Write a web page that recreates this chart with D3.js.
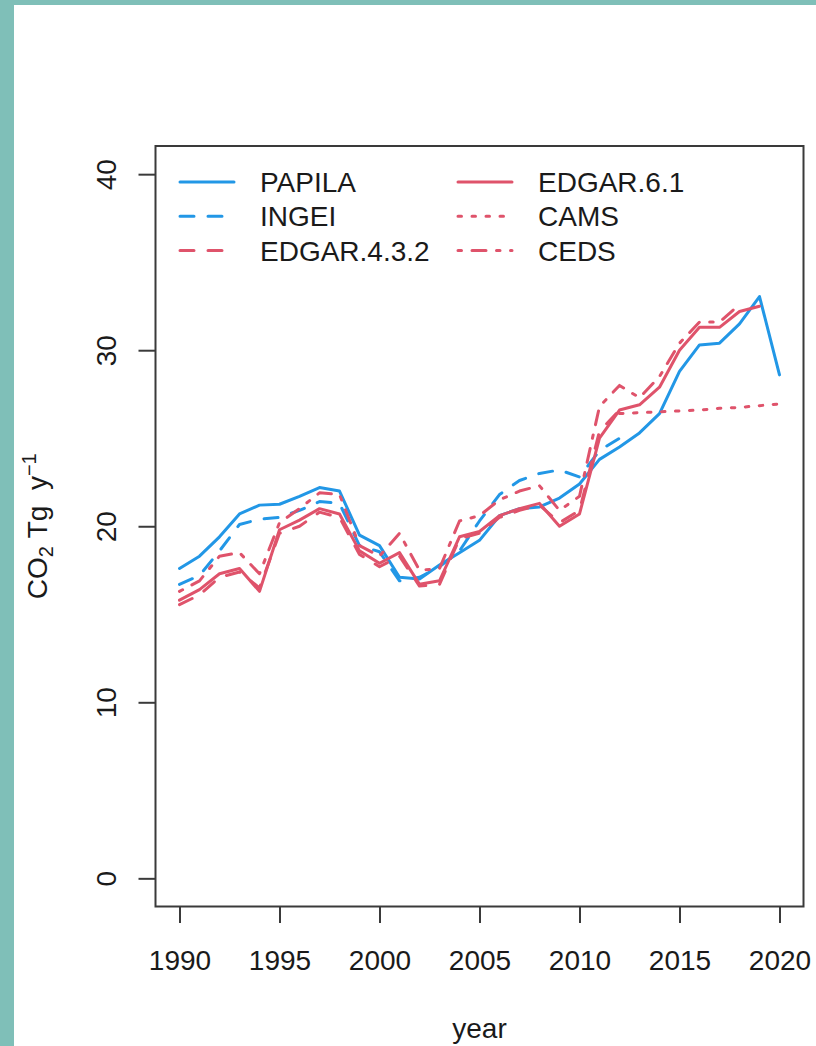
<!DOCTYPE html>
<html>
<head>
<meta charset="utf-8">
<script src="https://cdn.jsdelivr.net/npm/d3@7"></script>
<style>
  html, body { margin: 0; padding: 0; background: #fff; }
  svg { display: block; font-family: "Liberation Sans", Arial, Helvetica, sans-serif; }
</style>
</head>
<body>
<svg id="chart" width="816" height="1046"></svg>
<script>
// Annual CO2 emission estimates (Tg per year), 1990-2020; null = not covered
const years = d3.range(1990, 2021);

const papila = [17.6, 18.3, 19.4, 20.7, 21.2, 21.25, 21.7, 22.2, 22.0, 19.5,
                18.9, 17.1, 17.0, 17.8, 18.5, 19.2, 20.6, 21.0, 21.1, 21.6,
                22.4, 23.8, 24.5, 25.3, 26.4, 28.8, 30.3, 30.4, 31.5, 33.05, 28.6];

const ingei = [16.7, 17.2, 18.6, 20.1, 20.4, 20.5, 20.9, 21.4, 21.3, 18.9,
               18.55, 16.9, 17.1, 17.7, 18.6, 20.3, 21.8, 22.6, 23.0, 23.2,
               22.8, 24.3, 25.0, null, null, null, null, null, null, null, null];

const edgar432 = [15.55, 16.1, 17.1, 17.4, 16.5, 19.6, 20.0, 20.8, 20.5, 18.4,
                  17.7, 18.3, 16.6, 16.7, 19.3, 19.6, 20.5, 20.9, 21.2, 20.2,
                  20.9, 25.4, 26.6, null, null, null, null, null, null, null, null];

const edgar61 = [15.8, 16.4, 17.3, 17.6, 16.3, 19.8, 20.35, 21.0, 20.7, 18.6,
                 17.9, 18.5, 16.7, 16.9, 19.4, 19.7, 20.6, 21.0, 21.3, 20.0,
                 20.7, 25.0, 26.6, 26.9, 27.9, 30.0, 31.3, 31.3, 32.2, 32.5, null];

const cams = [null, null, null, null, null, null, null, null, null, null,
              null, null, null, null, null, null, null, null, null, null,
              null, null, 26.4, 26.45, 26.5, 26.55, 26.6, 26.7, 26.75, 26.85, 26.95];

const ceds = [16.3, 16.9, 18.3, 18.5, 17.3, 20.2, 21.0, 21.9, 21.8, 18.9,
              18.3, 19.6, 17.5, 17.6, 20.3, 20.6, 21.5, 22.0, 22.3, 20.9,
              21.7, 26.8, 28.0, 27.3, 28.5, 30.4, 31.6, 31.6, 32.6, null, null];

const xTicks = [1990, 1995, 2000, 2005, 2010, 2015, 2020];
const yTicks = [0, 10, 20, 30, 40];

const BLUE = "#2297E6", RED = "#DF536B";
const DASH = "14,14", DOT = "3.5,10.5", DOTDASH = "3.5,10.5,14,10.5";

const series = [
  { name: "PAPILA",      values: papila,   color: BLUE, dash: null },
  { name: "INGEI",       values: ingei,    color: BLUE, dash: DASH },
  { name: "EDGAR.4.3.2", values: edgar432, color: RED,  dash: DASH },
  { name: "EDGAR.6.1",   values: edgar61,  color: RED,  dash: null },
  { name: "CAMS",        values: cams,     color: RED,  dash: DOT },
  { name: "CEDS",        values: ceds,     color: RED,  dash: DOTDASH }
];

const svg = d3.select("#chart");
const W = 816, H = 1046;
const plot = { left: 155.5, right: 803.5, top: 146, bottom: 906.5 };

// page frame
svg.append("rect").attr("width", W).attr("height", H).attr("fill", "#fff");
svg.append("rect").attr("x", 0).attr("y", 0).attr("width", 14).attr("height", H).attr("fill", "#7fbfb8");
svg.append("rect").attr("x", 0).attr("y", 0).attr("width", W).attr("height", 5).attr("fill", "#7fbfb8");

// scales with 4% padding on each side of the data ranges
const x = d3.scaleLinear().domain([1988.8, 2021.2]).range([plot.left, plot.right]);
const y = d3.scaleLinear().domain([-1.6, 41.6]).range([plot.bottom, plot.top]);

const FS = 28;
const textColor = "#1a1a1a";
const axisColor = "#3a3a3a";

// x axis
const gx = svg.append("g")
  .attr("transform", `translate(0,${plot.bottom})`)
  .call(d3.axisBottom(x).tickValues(xTicks).tickSize(16.5).tickFormat(d3.format("d")));
gx.select(".domain").remove();
gx.selectAll(".tick line").attr("stroke", axisColor).attr("stroke-width", 2);
gx.selectAll(".tick text")
  .attr("y", 63.5).attr("dy", null)
  .attr("font-size", FS).attr("fill", textColor)
  .attr("font-family", "Liberation Sans, Arial, sans-serif");

// y axis (labels parallel to the axis)
const gy = svg.append("g")
  .attr("transform", `translate(${plot.left},0)`)
  .call(d3.axisLeft(y).tickValues(yTicks).tickSize(17));
gy.select(".domain").remove();
gy.selectAll(".tick line").attr("stroke", axisColor).attr("stroke-width", 2);
gy.selectAll(".tick text")
  .attr("x", null).attr("dy", null)
  .attr("transform", "translate(-40,0) rotate(-90)")
  .attr("text-anchor", "middle")
  .attr("font-size", FS).attr("fill", textColor)
  .attr("font-family", "Liberation Sans, Arial, sans-serif");

// plot frame
svg.append("rect")
  .attr("x", plot.left).attr("y", plot.top)
  .attr("width", plot.right - plot.left).attr("height", plot.bottom - plot.top)
  .attr("fill", "none").attr("stroke", axisColor).attr("stroke-width", 2);

// axis titles
svg.append("text")
  .attr("x", (plot.left + plot.right) / 2).attr("y", 1038)
  .attr("text-anchor", "middle").attr("font-size", FS).attr("fill", textColor)
  .text("year");

const yt = svg.append("text")
  .attr("transform", `translate(47,${(plot.top + plot.bottom) / 2}) rotate(-90)`)
  .attr("text-anchor", "middle").attr("font-size", FS).attr("fill", textColor);
yt.append("tspan").text("CO");
yt.append("tspan").attr("font-size", 20).attr("dy", 6).text("2");
yt.append("tspan").attr("dy", -6).text("\u00A0Tg\u00A0\u00A0y");
yt.append("tspan").attr("font-size", 20).attr("dy", -11).text("\u22121");

// series lines
const line = d3.line()
  .defined(d => d.v != null)
  .x(d => x(d.year))
  .y(d => y(d.v));

const gLines = svg.append("g");
series.forEach(s => {
  const pts = years.map((yr, i) => ({ year: yr, v: s.values[i] }));
  gLines.append("path")
    .datum(pts)
    .attr("d", line)
    .attr("fill", "none")
    .attr("stroke", s.color)
    .attr("stroke-width", 3)
    .attr("stroke-linecap", "round")
    .attr("stroke-linejoin", "round")
    .attr("stroke-dasharray", s.dash);
});

// legend, two columns of three
const legCols = [180, 458];
const legRows = [182, 216.3, 250.6];
const legend = svg.append("g");
series.forEach((s, i) => {
  const cx = legCols[Math.floor(i / 3)];
  const cy = legRows[i % 3];
  legend.append("line")
    .attr("x1", cx).attr("x2", cx + 54).attr("y1", cy).attr("y2", cy)
    .attr("stroke", s.color).attr("stroke-width", 3)
    .attr("stroke-linecap", "round")
    .attr("stroke-dasharray", s.dash);
  legend.append("text")
    .attr("x", cx + (i < 3 ? 80 : 80)).attr("y", cy + 10)
    .attr("font-size", FS).attr("fill", textColor)
    .text(s.name);
});
</script>
</body>
</html>
